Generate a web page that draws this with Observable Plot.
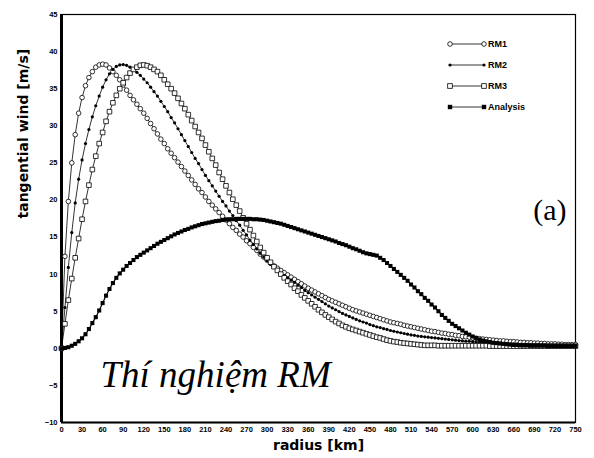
<!DOCTYPE html>
<html><head><meta charset="utf-8">
<script src="https://cdn.jsdelivr.net/npm/d3@7"></script>
<script src="https://cdn.jsdelivr.net/npm/@observablehq/plot@0.6"></script>
<style>body{margin:0;background:#fff}</style>
</head><body><div id="chart"></div>
<script>
const radius = d3.range(0, 751, 5);
const rm1 = [
0, 12.4, 19.8, 25.0, 28.8, 31.7, 33.8, 35.4, 36.5, 37.3,
37.9, 38.2, 38.3, 38.2, 37.8, 37.3, 36.8, 36.2, 35.5, 34.8,
34.1, 33.5, 32.9, 32.3, 31.7, 31.0, 30.3, 29.6, 28.9, 28.2,
27.6, 26.9, 26.3, 25.7, 25.1, 24.5, 23.9, 23.3, 22.7, 22.1,
21.5, 21.0, 20.4, 19.8, 19.3, 18.8, 18.3, 17.8, 17.3, 16.8,
16.3, 15.9, 15.4, 15.0, 14.5, 14.1, 13.6, 13.2, 12.7, 12.3,
11.9, 11.5, 11.1, 10.8, 10.5, 10.2, 9.9, 9.6, 9.3, 9.0,
8.7, 8.4, 8.1, 7.85, 7.6, 7.35, 7.1, 6.85, 6.6, 6.4,
6.2, 6.0, 5.8, 5.6, 5.4, 5.2, 5.05, 4.9, 4.75, 4.6,
4.45, 4.3, 4.15, 4.0, 3.85, 3.7, 3.55, 3.45, 3.35, 3.25,
3.1, 3.0, 2.9, 2.8, 2.7, 2.6, 2.5, 2.4, 2.3, 2.25,
2.15, 2.05, 2.0, 1.9, 1.85, 1.75, 1.7, 1.6, 1.55, 1.5,
1.4, 1.35, 1.3, 1.25, 1.2, 1.15, 1.1, 1.05, 1.0, 1.0,
0.95, 0.9, 0.9, 0.85, 0.8, 0.8, 0.75, 0.75, 0.7, 0.7,
0.65, 0.65, 0.6, 0.6, 0.6, 0.55, 0.55, 0.5, 0.5, 0.5,
0.5];
const rm2 = [
0, 5.5, 10.9, 15.6, 19.6, 22.8, 25.4, 27.6, 29.5, 31.2,
32.7, 34.0, 35.2, 36.2, 37.0, 37.6, 38.0, 38.2, 38.25, 38.15,
37.9, 37.6, 37.2, 36.8, 36.3, 35.8, 35.2, 34.6, 34.0, 33.3,
32.6, 31.9, 31.1, 30.4, 29.6, 28.8, 28.0, 27.2, 26.4, 25.6,
24.9, 24.1, 23.3, 22.6, 21.9, 21.2, 20.5, 19.8, 19.2, 18.5,
17.9, 17.2, 16.6, 15.9, 15.3, 14.6, 14.0, 13.4, 12.8, 12.3,
11.8, 11.3, 10.9, 10.5, 10.1, 9.8, 9.5, 9.2, 8.9, 8.5,
8.2, 7.8, 7.5, 7.2, 6.9, 6.6, 6.3, 6.0, 5.7, 5.45,
5.2, 4.95, 4.7, 4.5, 4.3, 4.1, 3.9, 3.7, 3.55, 3.4,
3.2, 3.05, 2.9, 2.8, 2.65, 2.55, 2.4, 2.3, 2.2, 2.1,
2.0, 1.9, 1.8, 1.75, 1.65, 1.6, 1.55, 1.5, 1.45, 1.4,
1.35, 1.3, 1.25, 1.2, 1.15, 1.1, 1.05, 1.0, 0.95, 0.95,
0.9, 0.85, 0.85, 0.8, 0.8, 0.75, 0.75, 0.7, 0.7, 0.65,
0.65, 0.6, 0.6, 0.6, 0.55, 0.55, 0.55, 0.5, 0.5, 0.5,
0.45, 0.45, 0.45, 0.45, 0.4, 0.4, 0.4, 0.4, 0.4, 0.35,
0.35];
const rm3 = [
0, 3.3, 6.5, 9.4, 12.2, 14.8, 17.4, 19.8, 22.0, 24.1,
25.9, 27.6, 29.1, 30.6, 31.9, 33.1, 34.1, 35.0, 35.8, 36.5,
37.1, 37.6, 37.9, 38.15, 38.2, 38.1, 37.9, 37.6, 37.3, 36.8,
36.2, 35.6, 35.0, 34.4, 33.7, 33.0, 32.3, 31.5, 30.7, 29.9,
29.1, 28.3, 27.4, 26.5, 25.6, 24.7, 23.7, 22.8, 21.9, 21.0,
20.1, 19.3, 18.5, 17.6, 16.8, 16.0, 15.2, 14.4, 13.6, 12.9,
12.2, 11.6, 11.0, 10.5, 10.0, 9.5, 9.05, 8.6, 8.1, 7.7,
7.2, 6.8, 6.4, 6.0, 5.6, 5.2, 4.85, 4.5, 4.2, 3.9,
3.6, 3.35, 3.1, 2.9, 2.7, 2.55, 2.4, 2.25, 2.1, 1.95,
1.8, 1.65, 1.5, 1.4, 1.25, 1.1, 1.0, 0.9, 0.85, 0.75,
0.7, 0.65, 0.6, 0.55, 0.5, 0.45, 0.4, 0.4, 0.4, 0.4,
0.35, 0.35, 0.35, 0.35, 0.35, 0.35, 0.35, 0.35, 0.35, 0.35,
0.35, 0.35, 0.35, 0.35, 0.35, 0.3, 0.3, 0.3, 0.3, 0.3,
0.3, 0.3, 0.3, 0.3, 0.3, 0.3, 0.3, 0.3, 0.3, 0.3,
0.3, 0.3, 0.3, 0.3, 0.3, 0.3, 0.3, 0.3, 0.3, 0.3,
0.3];
const analysis = [
0.0, 0.05, 0.15, 0.35, 0.6, 0.95, 1.35, 1.9, 2.6, 3.4,
4.2, 5.1, 6.1, 7.1, 8.0, 8.8, 9.5, 10.1, 10.6, 11.1,
11.5, 11.9, 12.3, 12.6, 12.9, 13.2, 13.5, 13.8, 14.1, 14.35,
14.6, 14.85, 15.1, 15.35, 15.55, 15.75, 15.95, 16.1, 16.3, 16.45,
16.6, 16.75, 16.85, 16.95, 17.05, 17.15, 17.2, 17.3, 17.35, 17.4,
17.4, 17.45, 17.45, 17.45, 17.45, 17.45, 17.4, 17.4, 17.35, 17.3,
17.2, 17.1, 17.0, 16.9, 16.8, 16.65, 16.5, 16.35, 16.2, 16.05,
15.9, 15.75, 15.6, 15.45, 15.3, 15.15, 15.0, 14.85, 14.7, 14.55,
14.4, 14.2, 14.05, 13.9, 13.7, 13.5, 13.35, 13.15, 12.95, 12.8,
12.7, 12.6, 12.5, 12.2, 11.9, 11.5, 11.1, 10.7, 10.3, 9.9,
9.5, 9.1, 8.6, 8.2, 7.7, 7.3, 6.8, 6.4, 5.9, 5.5,
5.0, 4.5, 4.1, 3.7, 3.3, 3.0, 2.7, 2.4, 2.1, 1.85,
1.6, 1.4, 1.2, 1.05, 0.95, 0.85, 0.75, 0.7, 0.65, 0.6,
0.55, 0.5, 0.45, 0.45, 0.4, 0.4, 0.4, 0.35, 0.35, 0.35,
0.35, 0.35, 0.3, 0.3, 0.3, 0.3, 0.3, 0.3, 0.3, 0.3,
0.3];
const xTicks = d3.range(0, 751, 30);
const yTicks = d3.range(-10, 46, 5);
const seriesNames = ["RM1", "RM2", "RM3", "Analysis"];

const rows = (vals) => radius.map((r, i) => ({r, v: vals[i]}));
const d1 = rows(rm1), d2 = rows(rm2), d3r = rows(rm3), d4 = rows(analysis);
const L = {x: "r", y: "v", stroke: "black", strokeWidth: 0.8};
const sans = "Liberation Sans, Arial, sans-serif";
const serif = "Liberation Serif, Times New Roman, serif";

const chart = Plot.plot({
  width: 594, height: 458,
  marginTop: 14, marginRight: 19, marginBottom: 36, marginLeft: 61,
  x: {domain: [0, 750]},
  y: {domain: [-10, 45]},
  style: {fontFamily: sans, background: "#fff", color: "black"},
  marks: [
    Plot.axisX({ticks: xTicks, tickSize: 0, tickPadding: 4, fontSize: 7.5, fontWeight: "bold", label: null}),
    Plot.axisY({ticks: yTicks, tickSize: 0, tickPadding: 4, fontSize: 7.5, fontWeight: "bold", label: null}),
    Plot.frame({stroke: "black", strokeWidth: 1.2}),
    Plot.ruleX([0], {stroke: "black", strokeWidth: 3}),
    Plot.ruleY([-10], {stroke: "black", strokeWidth: 2}),
    Plot.line(d1, L),
    Plot.line(d2, L),
    Plot.line(d3r, L),
    Plot.line(d4, {...L, strokeWidth: 1.2}),
    Plot.dot(d1, {x: "r", y: "v", r: 2.3, symbol: "circle", fill: "white", stroke: "black", strokeWidth: 0.8}),
    Plot.dot(d2, {x: "r", y: "v", r: 1.6, symbol: "circle", fill: "black"}),
    Plot.dot(d3r, {x: "r", y: "v", r: 2.6, symbol: "square", fill: "white", stroke: "black", strokeWidth: 0.8}),
    Plot.dot(d4, {x: "r", y: "v", r: 2.3, symbol: "square", fill: "black"}),
    Plot.text(["radius [km]"], {frameAnchor: "bottom", dy: 27, fontSize: 14, fontWeight: "bold", fontFamily: "DejaVu Sans, sans-serif"}),
    Plot.text(["tangential wind [m/s]"], {frameAnchor: "left", dx: -38, rotate: -90, fontSize: 14, fontWeight: "bold", fontFamily: "DejaVu Sans, sans-serif"}),
    Plot.text(["Thí nghiệm RM"], {frameAnchor: "bottom-left", dx: 39, dy: -36, textAnchor: "start", fontSize: 37, fontStyle: "italic", fontFamily: serif}),
    Plot.text(["(a)"], {frameAnchor: "right", dx: -9, dy: -8, textAnchor: "end", fontSize: 30, fontFamily: serif})
  ]
});

// legend
const svg = d3.select(chart);
const lg = svg.append("g");
const rowsY = [44, 65, 86, 107];
const x0 = 450, x1 = 484;
seriesNames.forEach((name, i) => {
  const y = rowsY[i];
  lg.append("line").attr("x1", x0).attr("x2", x1).attr("y1", y).attr("y2", y).attr("stroke", "black").attr("stroke-width", 0.8);
  [x0, x1].forEach(x => {
    if (i === 0) lg.append("circle").attr("cx", x).attr("cy", y).attr("r", 2.3).attr("fill", "white").attr("stroke", "black").attr("stroke-width", 0.8);
    if (i === 1) lg.append("circle").attr("cx", x).attr("cy", y).attr("r", 1.6).attr("fill", "black");
    if (i === 2) lg.append("rect").attr("x", x - 2.3).attr("y", y - 2.3).attr("width", 4.6).attr("height", 4.6).attr("fill", "white").attr("stroke", "black").attr("stroke-width", 0.8);
    if (i === 3) lg.append("rect").attr("x", x - 2.2).attr("y", y - 2.2).attr("width", 4.4).attr("height", 4.4).attr("fill", "black");
  });
  lg.append("text").attr("x", x1 + 4).attr("y", y).attr("dy", "0.35em")
    .attr("text-anchor", "start").attr("font-size", 9).attr("font-weight", "bold")
    .attr("font-family", sans).text(name);
});

document.getElementById("chart").appendChild(chart);
</script>
</body></html>
